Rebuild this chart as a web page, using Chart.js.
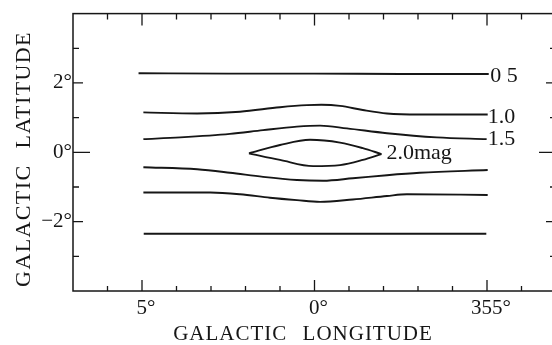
<!DOCTYPE html>
<html>
<head>
<meta charset="utf-8">
<script src="https://cdn.jsdelivr.net/npm/chart.js@4"></script>
<style>
  html, body { margin: 0; padding: 0; background: #fff; overflow: hidden; }
  #wrap { width: 560px; height: 345px; }
</style>
</head>
<body>
<div id="wrap"><canvas id="c" width="560" height="345"></canvas></div>
<script>
// Extinction contours near the galactic centre: [longitude offset (deg, + = east of 0°), latitude (deg)]
const contour05 = [[5.10, 2.28], [2.50, 2.27], [0.00, 2.27], [-2.50, 2.26], [-5.05, 2.26]];
const contour10 = [[4.96, 1.15], [3.40, 1.12], [2.16, 1.17], [1.00, 1.30], [0.22, 1.36], [-0.20, 1.37],
                   [-0.74, 1.34], [-1.40, 1.22], [-2.10, 1.12], [-3.05, 1.09], [-5.02, 1.09]];
const contour15 = [[4.96, 0.38], [3.89, 0.43], [2.45, 0.53], [1.49, 0.64], [0.51, 0.74], [-0.16, 0.77],
                   [-0.94, 0.69], [-2.10, 0.55], [-3.54, 0.43], [-4.99, 0.38]];
const contour20Upper = [[1.90, -0.03], [1.00, 0.21], [0.13, 0.36], [-0.74, 0.28], [-1.40, 0.12], [-1.94, -0.05]];
const contour20Lower = [[1.90, -0.03], [1.00, -0.22], [0.04, -0.40], [-0.74, -0.37], [-1.40, -0.22], [-1.94, -0.05]];
const contour15South = [[4.96, -0.43], [3.40, -0.49], [2.45, -0.59], [1.49, -0.71], [0.51, -0.80], [-0.25, -0.82],
                        [-1.11, -0.75], [-2.10, -0.66], [-3.05, -0.59], [-5.02, -0.51]];
const contour10South = [[4.96, -1.16], [3.02, -1.16], [2.16, -1.21], [1.29, -1.31], [0.51, -1.38], [-0.16, -1.43],
                        [-1.11, -1.36], [-2.10, -1.26], [-2.68, -1.21], [-5.02, -1.23]];
const contour05South = [[4.95, -2.35], [0.00, -2.35], [-4.98, -2.35]];

const contourLabels = ['0 5', '1.0', '1.5', '2.0mag'];

const xTickValues = [5, 0, -5];
const xTickLabels = ['5°', '0°', '355°'];
const yTickValues = [2, 0, -2];
const yTickLabels = ['2°', '0°', '−2°'];

const xTitle = 'GALACTIC LONGITUDE';
const yTitle = 'GALACTIC LATITUDE';

const INK = '#161616';
const SERIF = "'Liberation Serif', 'DejaVu Serif', serif";

const toPoints = arr => arr.map(([x, y]) => ({ x, y }));

function contour(data, extra) {
  return Object.assign({
    data: toPoints(data),
    borderColor: INK,
    borderWidth: 1.9,
    pointRadius: 0,
    fill: false,
    cubicInterpolationMode: 'monotone'
  }, extra || {});
}

const datasets = [
  contour(contour05, { endLabel: contourLabels[0], labelDx: 1.5, labelDy: 1 }),
  contour(contour10, { endLabel: contourLabels[1], labelDx: 0, labelDy: 1 }),
  contour(contour15, { endLabel: contourLabels[2], labelDx: 1, labelDy: -2 }),
  contour(contour20Upper, { endLabel: contourLabels[3], labelDx: 5, labelDy: -2.5 }),
  contour(contour20Lower),
  contour(contour15South),
  contour(contour10South),
  contour(contour05South)
];

// Frame plus ticks that point into the plotting area on all four sides
const frameAndTicks = {
  id: 'frameAndTicks',
  afterDatasetsDraw(chart) {
    const { ctx, chartArea: a, scales: { x, y } } = chart;
    ctx.save();
    ctx.strokeStyle = INK;
    ctx.lineWidth = 1.5;
    ctx.strokeRect(a.left, a.top, a.right - a.left, a.bottom - a.top);
    ctx.lineWidth = 1.3;
    ctx.beginPath();
    for (let v = -6; v <= 6; v++) {
      const px = x.getPixelForValue(v);
      const major = xTickValues.includes(v);
      ctx.moveTo(px, a.bottom); ctx.lineTo(px, a.bottom - (major ? 11 : 5));
      ctx.moveTo(px, a.top); ctx.lineTo(px, a.top + (major ? 12 : 6));
    }
    for (let v = -3; v <= 3; v++) {
      const py = y.getPixelForValue(v);
      const len = v === 0 ? 17 : (yTickValues.includes(v) ? 10 : 6);
      ctx.moveTo(a.left, py); ctx.lineTo(a.left + len, py);
      ctx.moveTo(a.right, py); ctx.lineTo(a.right - len, py);
    }
    ctx.stroke();
    ctx.restore();
  }
};

// Contour level labels placed at the eastern end of each contour
const contourEndLabels = {
  id: 'contourEndLabels',
  afterDatasetsDraw(chart) {
    const { ctx } = chart;
    ctx.save();
    ctx.fillStyle = INK;
    ctx.font = '22px ' + SERIF;
    ctx.textAlign = 'left';
    ctx.textBaseline = 'alphabetic';
    chart.data.datasets.forEach((ds, i) => {
      if (!ds.endLabel) return;
      const pts = chart.getDatasetMeta(i).data;
      const p = pts[pts.length - 1];
      ctx.fillText(ds.endLabel, p.x + ds.labelDx, p.y + ds.labelDy + 7.4);
    });
    ctx.restore();
  }
};

// Letter-spaced axis titles
const axisTitles = {
  id: 'axisTitles',
  afterDraw(chart) {
    const { ctx } = chart;
    ctx.save();
    ctx.fillStyle = INK;
    ctx.textAlign = 'center';
    ctx.textBaseline = 'alphabetic';
    ctx.font = '21px ' + SERIF;
    ctx.letterSpacing = '1px';
    ctx.wordSpacing = '9px';
    ctx.fillText(xTitle, 303, 340);
    ctx.translate(30, 159);
    ctx.rotate(-Math.PI / 2);
    ctx.font = '22px ' + SERIF;
    ctx.letterSpacing = '1.4px';
    ctx.fillText(yTitle, 0, 0);
    ctx.restore();
  }
};

new Chart(document.getElementById('c'), {
  type: 'line',
  data: { datasets },
  options: {
    responsive: false,
    animation: false,
    devicePixelRatio: 1,
    layout: { padding: { top: 13, right: 4, left: 0, bottom: 0 } },
    plugins: { legend: { display: false }, tooltip: { enabled: false } },
    scales: {
      x: {
        type: 'linear',
        min: -7, max: 7,
        reverse: true,
        grid: { display: false, drawTicks: false },
        border: { display: false },
        afterBuildTicks: s => { s.ticks = xTickValues.map(v => ({ value: v })); },
        afterFit: s => { s.height = 54; },
        ticks: {
          autoSkip: false, maxRotation: 0,
          padding: 5,
          labelOffset: 4,
          color: INK,
          font: { family: SERIF, size: 21 },
          callback: v => xTickLabels[xTickValues.indexOf(v)]
        }
      },
      y: {
        type: 'linear',
        min: -4, max: 4,
        grid: { display: false, drawTicks: false },
        border: { display: false },
        afterBuildTicks: s => { s.ticks = yTickValues.map(v => ({ value: v })); },
        afterFit: s => { s.width = 73; },
        ticks: {
          autoSkip: false,
          padding: 1,
          color: INK,
          font: { family: SERIF, size: 21 },
          callback: v => yTickLabels[yTickValues.indexOf(v)]
        }
      }
    }
  },
  plugins: [frameAndTicks, contourEndLabels, axisTitles]
});
</script>
</body>
</html>
